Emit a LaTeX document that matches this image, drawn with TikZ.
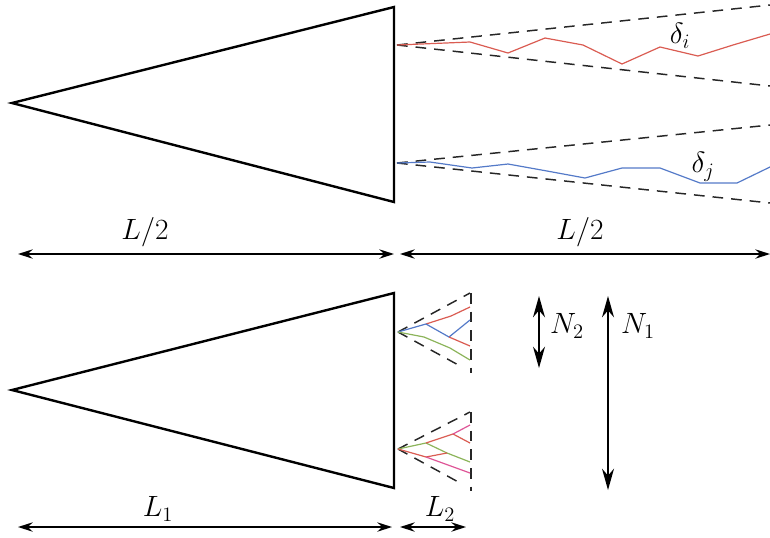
\documentclass[tikz,border=0pt]{standalone}
\usepackage{fix-cm}
\usetikzlibrary{arrows.meta}
\definecolor{cred}{RGB}{218,92,82}
\definecolor{cblue}{RGB}{84,122,200}
\definecolor{cgreen}{RGB}{140,180,90}
\definecolor{cpink}{RGB}{222,84,150}
\begin{document}
\begin{tikzpicture}[x=0.75pt,y=-0.75pt,
  tri/.style={line width=1.8pt,line join=miter},
  ray/.style={line width=1.1pt,dash pattern=on 8pt off 6pt,black!85},
  path/.style={line width=0.9pt},
  dim/.style={line width=1pt,{Stealth[length=11pt,width=7pt]}-{Stealth[length=11pt,width=7pt]}},
  bigdim/.style={line width=1pt,{Stealth[length=16pt,width=9pt]}-{Stealth[length=16pt,width=9pt]}},
  lab/.style={font=\fontsize{22}{26}\selectfont,inner sep=0pt}]
\useasboundingbox (0,0) rectangle (770,537);
% top triangle
\draw[tri] (12,103) -- (394,7) -- (394,202) -- cycle;
% top rays
\coordinate (oi) at (397,45);
\coordinate (oj) at (397,163);
\draw[ray] (oi) -- (770,5);
\draw[ray] (oi) -- (770,86);
\draw[ray] (oj) -- (770,125);
\draw[ray] (oj) -- (770,203);
\draw[path,cred] (oi) -- (470,42) -- (508,53) -- (545,38) -- (583,45) -- (622,64) -- (660,47) -- (698,56) -- (733,45) -- (770,34);
\draw[path,cblue] (oj) -- (430,162) -- (472,168) -- (508,164) -- (547,171) -- (585,178) -- (622,168) -- (660,168) -- (700,183) -- (737,183) -- (770,167);
\node[lab] (di) at (680,36) {$\delta_i$};
\node[lab] (dj) at (703,167) {$\delta_j$};
% L/2 dimensions
\coordinate (a1) at (18,254);
\coordinate (a2) at (394,254);
\coordinate (a3) at (400,254);
\coordinate (a4) at (770,254);
\draw[dim] (a1) -- (a2);
\draw[dim] (a3) -- (a4);
\node[lab] (lh1) at (145,232) {$L/2$};
\node[lab] (lh2) at (580,232) {$L/2$};
% bottom triangle
\draw[tri] (12,390) -- (394,293) -- (394,488) -- cycle;
% top fan
\coordinate (f1) at (398,332);
\draw[ray] (f1) -- (470,293);
\draw[ray] (f1) -- (462,367);
\draw[ray] (471,293) -- (471,373);
\draw[path,cblue] (f1) -- (426,324);
\draw[path,cred] (426,324) -- (451,316) -- (470,307);
\draw[path,cblue] (426,324) -- (449,337) -- (470,320);
\draw[path,cred] (449,337) -- (470,346);
\draw[path,cgreen] (f1) -- (424,337) -- (450,348) -- (470,360);
% bottom fan
\coordinate (f2) at (398,449);
\draw[ray] (f2) -- (470,412);
\draw[ray] (f2) -- (462,484);
\draw[ray] (471,412) -- (471,491);
\draw[path,cgreen] (f2) -- (426,443) -- (447,453) -- (470,462);
\draw[path,cred] (426,443) -- (453,434) -- (470,443);
\draw[path,cpink] (453,434) -- (470,425);
\draw[path,cred] (f2) -- (426,457) -- (447,453);
\draw[path,cpink] (426,457) -- (470,473);
% N arrows
\coordinate (n2a) at (539,296);
\coordinate (n2b) at (539,368);
\coordinate (n1a) at (608,296);
\coordinate (n1b) at (608,490);
\draw[bigdim] (n2a) -- (n2b);
\draw[bigdim] (n1a) -- (n1b);
\node[lab] (N2) at (567,326) {$N_2$};
\node[lab] (N1) at (638,326) {$N_1$};
% L1 L2 dimensions
\coordinate (b1) at (18,527);
\coordinate (b2) at (392,527);
\coordinate (b3) at (400,527);
\coordinate (b4) at (466,527);
\draw[dim] (b1) -- (b2);
\draw[dim] (b3) -- (b4);
\node[lab] (L1) at (158,509) {$L_1$};
\node[lab] (L2) at (440,509) {$L_2$};
\end{tikzpicture}
\end{document}
